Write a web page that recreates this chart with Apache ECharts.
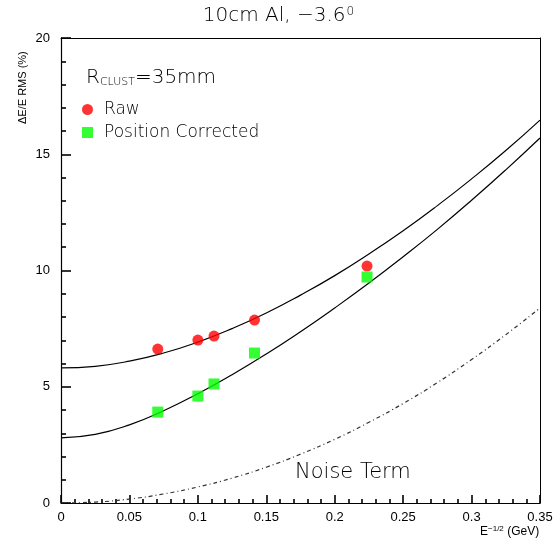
<!DOCTYPE html>
<html>
<head>
<meta charset="utf-8">
<script src="https://cdn.jsdelivr.net/npm/echarts@6/dist/echarts.min.js"></script>
<style>
html,body{margin:0;padding:0;background:#fff;}
#chart{width:557px;height:542px;}
</style>
</head>
<body>
<div id="chart"></div>
<script>
// Measured points (x = E^-1/2)
const pointX = [0.0707, 0.1, 0.1118, 0.1414, 0.2236];
const rawValues = [6.62, 7.01, 7.18, 7.87, 10.19];
const correctedValues = [3.91, 4.60, 5.12, 6.45, 9.72];

// Curves
const curveX = [0, 0.025, 0.05, 0.075, 0.1, 0.125, 0.15, 0.175, 0.2, 0.225, 0.25, 0.275, 0.3, 0.325, 0.35];
const rawFit = [5.81, 5.88, 6.10, 6.45, 6.92, 7.50, 8.17, 8.94, 9.78, 10.71, 11.71, 12.79, 13.94, 15.16, 16.47];
const correctedFit = [2.80, 2.95, 3.36, 3.97, 4.70, 5.52, 6.41, 7.37, 8.39, 9.46, 10.59, 11.77, 13.02, 14.33, 15.70];
const noiseTerm = [0, 0.04, 0.17, 0.39, 0.69, 1.07, 1.54, 2.10, 2.74, 3.47, 4.28, 5.18, 6.17, 7.24, 8.39];

const xTicks = [0, 0.05, 0.1, 0.15, 0.2, 0.25, 0.3, 0.35];
const yTicks = [0, 5, 10, 15, 20];

const pairs = (xs, ys) => xs.map((x, i) => [x, ys[i]]);

const chart = echarts.init(document.getElementById('chart'), null, {renderer: 'canvas'});
const tickFont = 'Liberation Sans, Arial, sans-serif';
const thinFont = 'DejaVu Sans, sans-serif';

const frameAxis = (pos, min, max) => ({
  type: 'value', position: pos, min: min, max: max,
  axisLine: {show: true, onZero: false, lineStyle: {color: '#000', width: 1}},
  axisTick: {show: false}, minorTick: {show: false}, axisLabel: {show: false}, splitLine: {show: false}
});

chart.setOption({
  animation: false,
  backgroundColor: '#fff',
  grid: {left: 61, right: 17, top: 38, bottom: 39},
  xAxis: [{
    type: 'value', position: 'bottom', min: 0, max: 0.35, interval: 0.05,
    axisLine: {show: true, onZero: false, lineStyle: {color: '#000', width: 1.2}},
    axisTick: {show: true, inside: true, length: 8, lineStyle: {color: '#000', width: 1.6}},
    minorTick: {show: true, splitNumber: 5, length: 4, lineStyle: {color: '#000', width: 1.6}},
    splitLine: {show: false},
    axisLabel: {show: true, color: '#000', fontFamily: tickFont, fontSize: 13, margin: 8,
      formatter: v => { const t = xTicks.find(k => Math.abs(k - v) < 1e-9); return t === undefined ? '' : String(t); }}
  }, frameAxis('top', 0, 0.35)],
  yAxis: [{
    type: 'value', position: 'left', min: 0, max: 20, interval: 5,
    axisLine: {show: true, onZero: false, lineStyle: {color: '#000', width: 1.2}},
    axisTick: {show: true, inside: true, length: 10, lineStyle: {color: '#000', width: 1.6}},
    minorTick: {show: true, splitNumber: 5, length: 5, lineStyle: {color: '#000', width: 1.6}},
    splitLine: {show: false},
    axisLabel: {show: true, color: '#000', fontFamily: tickFont, fontSize: 13, margin: 11,
      formatter: v => { const t = yTicks.find(k => Math.abs(k - v) < 1e-9); return t === undefined ? '' : String(t); }}
  }, frameAxis('right', 0, 20)],
  legend: {
    orient: 'vertical', left: 77, top: 96, itemGap: 6, itemWidth: 11, itemHeight: 11,
    textStyle: {fontFamily: thinFont, fontSize: 17, fontWeight: 200, color: '#000', padding: [0, 0, 0, 6]},
    data: [{name: 'Raw', icon: 'circle'}, {name: 'Position Corrected', icon: 'rect'}]
  },
  series: [
    {type: 'line', name: 'rawFit', data: pairs(curveX, rawFit), smooth: true, symbol: 'none',
      lineStyle: {color: '#000', width: 1.2}, z: 2},
    {type: 'line', name: 'correctedFit', data: pairs(curveX, correctedFit), smooth: true, symbol: 'none',
      lineStyle: {color: '#000', width: 1.2}, z: 2},
    {type: 'line', name: 'noise', data: pairs(curveX, noiseTerm), smooth: true, symbol: 'none',
      lineStyle: {color: '#333', width: 1.2, type: [4, 3, 1, 3]}, z: 2},
    {type: 'scatter', name: 'Raw', data: pairs(pointX, rawValues), symbol: 'circle', symbolSize: 11,
      itemStyle: {color: '#ff0000'}, z: 3},
    {type: 'scatter', name: 'Position Corrected', data: pairs(pointX, correctedValues), symbol: 'rect', symbolSize: 11,
      itemStyle: {color: '#00ff00'}, z: 3}
  ],
  graphic: [
    {type: 'text', left: 'center', top: 6, style: {
      text: '{a|10cm Al, −3.6}{s|0}',
      rich: {a: {fontFamily: thinFont, fontSize: 20, fontWeight: 200, fill: '#000'},
             s: {fontFamily: thinFont, fontSize: 12, fontWeight: 200, fill: '#000', verticalAlign: 'top', padding: [0, 0, 8, 1]}}
    }},
    {type: 'text', x: 86, y: 68, style: {
      text: '{a|R}{s|CLUST}{a|=35mm}',
      rich: {a: {fontFamily: thinFont, fontSize: 20, fontWeight: 200, fill: '#000'},
             s: {fontFamily: thinFont, fontSize: 11, fontWeight: 200, fill: '#000', padding: [9, 0, 0, 0]}}
    }},
    {type: 'text', x: 295, y: 462, style: {
      text: 'Noise Term', fontFamily: thinFont, fontSize: 21, fontWeight: 200, fill: '#000'
    }},
    {type: 'text', x: 17, y: 124, rotation: Math.PI / 2, style: {
      text: 'ΔE/E RMS (%)', fontFamily: tickFont, fontSize: 11, fill: '#000', verticalAlign: 'top'
    }},
    {type: 'text', x: 480, y: 525, style: {
      text: '{a|E}{s|−1/2}{a| (GeV)}',
      rich: {a: {fontFamily: tickFont, fontSize: 12, fill: '#000'},
             s: {fontFamily: tickFont, fontSize: 8, fill: '#000', padding: [0, 0, 6, 0]}}
    }}
  ]
});
</script>
</body>
</html>
